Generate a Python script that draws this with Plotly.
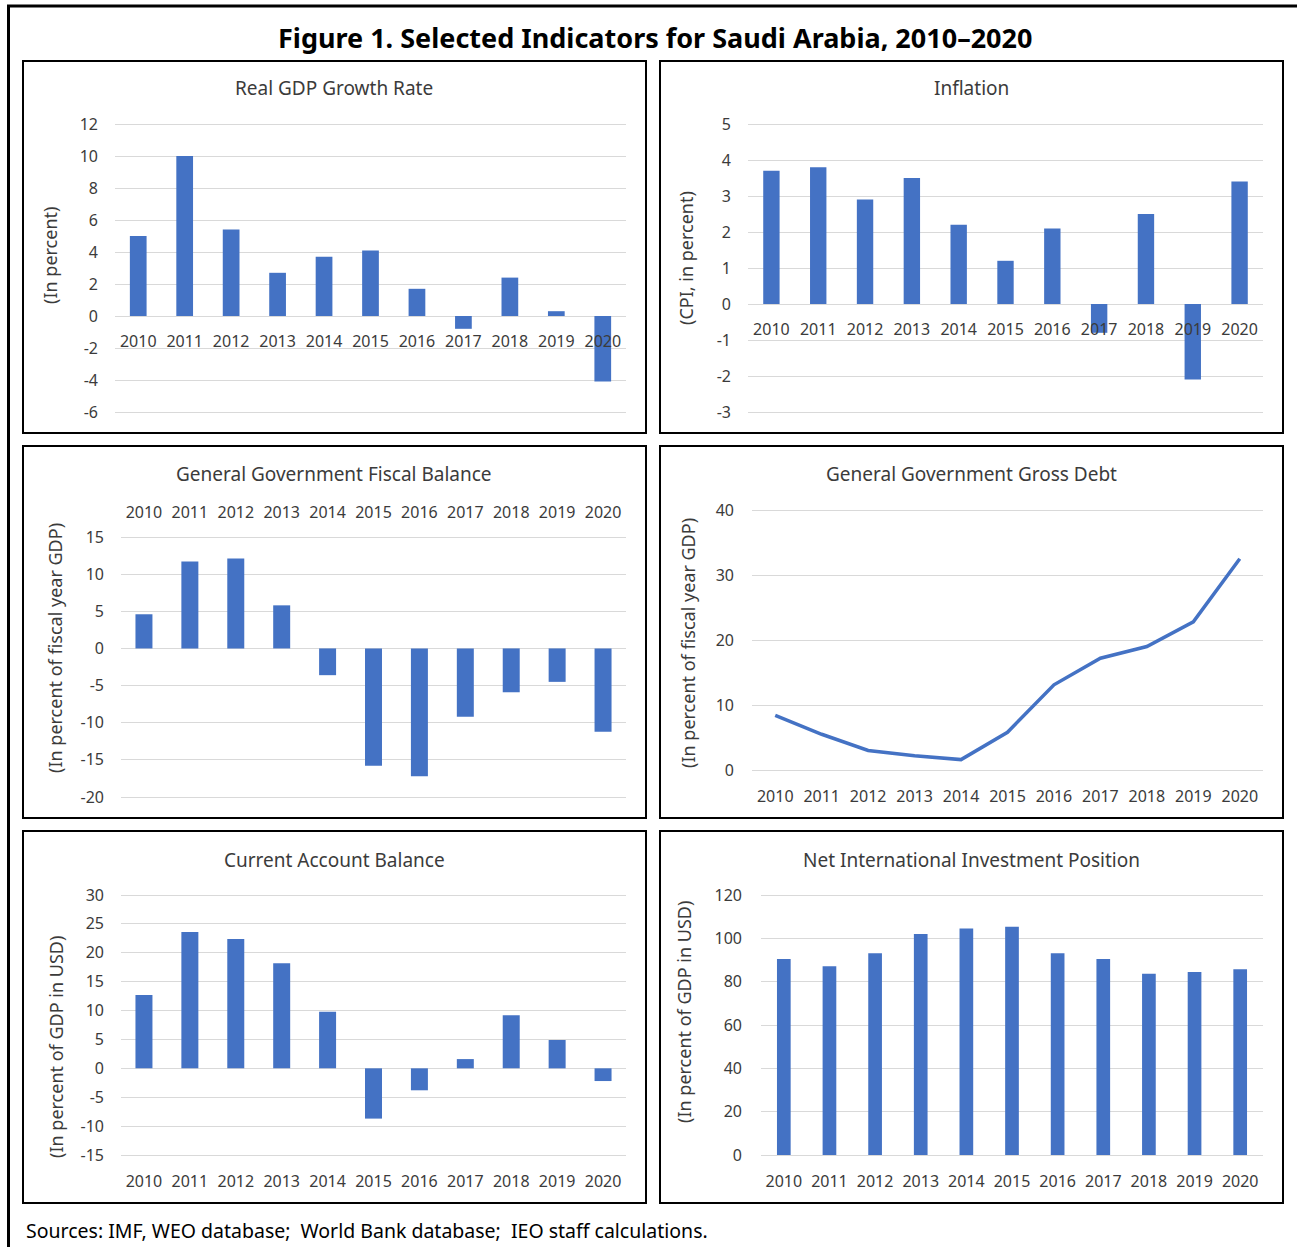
import plotly.graph_objects as go

# ---------------- data ----------------
years = ["2010", "2011", "2012", "2013", "2014", "2015", "2016", "2017", "2018", "2019", "2020"]

gdp_growth = [5.0, 10.0, 5.4, 2.7, 3.7, 4.1, 1.7, -0.8, 2.4, 0.3, -4.1]
inflation = [3.7, 3.8, 2.9, 3.5, 2.2, 1.2, 2.1, -0.8, 2.5, -2.1, 3.4]
fiscal_balance = [4.6, 11.7, 12.1, 5.8, -3.6, -15.8, -17.2, -9.2, -5.9, -4.5, -11.2]
gross_debt = [8.4, 5.5, 3.0, 2.2, 1.6, 5.8, 13.1, 17.2, 19.0, 22.8, 32.5]
current_account = [12.7, 23.6, 22.4, 18.2, 9.8, -8.7, -3.8, 1.6, 9.2, 4.9, -2.2]
niip = [90.5, 87.1, 93.1, 102.0, 104.5, 105.3, 93.1, 90.5, 83.6, 84.5, 85.7]

gdp_ticks = [-6, -4, -2, 0, 2, 4, 6, 8, 10, 12]
infl_ticks = [-3, -2, -1, 0, 1, 2, 3, 4, 5]
fiscal_ticks = [-20, -15, -10, -5, 0, 5, 10, 15]
debt_ticks = [0, 10, 20, 30, 40]
ca_ticks = [-15, -10, -5, 0, 5, 10, 15, 20, 25, 30]
niip_ticks = [0, 20, 40, 60, 80, 100, 120]

fig_title = "<b>Figure 1. Selected Indicators for Saudi Arabia, 2010–2020</b>"
sources = "Sources: IMF, WEO database;  World Bank database;  IEO staff calculations."

# ---------------- layout helpers ----------------
W, H = 1297, 1247
BLUE = "#4472C4"
GRID = "#D9D9D9"
TXT = "#3b3b3b"
FONT = "Noto Sans"
PADPX = 3  # extra pixels around the plot area so edge gridlines are drawn


def pxx(x):
    return x / W


def pyy(y):
    return 1 - y / H


panels = [
    dict(title="Real GDP Growth Rate", ytitle="(In percent)", vals=gdp_growth, ticks=gdp_ticks,
         kind="bar", xdom=(115, 626), ydom=(124, 412), box=(23, 61, 646, 433),
         tpos=(334, 88), ytpos=(50, 256), xlab="zero", bargap=0.64, ystand=16),
    dict(title="Inflation", ytitle="(CPI, in percent)", vals=inflation, ticks=infl_ticks,
         kind="bar", xdom=(748, 1263), ydom=(124, 412), box=(660, 61, 1283, 433),
         tpos=(971, 88), ytpos=(686, 258), xlab="zero", bargap=0.65, ystand=16),
    dict(title="General Government Fiscal Balance", ytitle="(In percent of fiscal year GDP)",
         vals=fiscal_balance, ticks=fiscal_ticks,
         kind="bar", xdom=(121, 626), ydom=(537, 797), box=(23, 446, 646, 818),
         tpos=(334, 474), ytpos=(55, 648), xlab="top", bargap=0.63, ystand=16),
    dict(title="General Government Gross Debt", ytitle="(In percent of fiscal year GDP)",
         vals=gross_debt, ticks=debt_ticks,
         kind="line", xdom=(752, 1263), ydom=(510, 770), box=(660, 446, 1283, 818),
         tpos=(971, 474), ytpos=(688, 643), xlab="bottom", bargap=0.6, ystand=17),
    dict(title="Current Account Balance", ytitle="(In percent of GDP in USD)",
         vals=current_account, ticks=ca_ticks,
         kind="bar", xdom=(121, 626), ydom=(895, 1155), box=(23, 831, 646, 1203),
         tpos=(334, 860), ytpos=(56, 1047), xlab="bottom", bargap=0.63, ystand=16),
    dict(title="Net International Investment Position", ytitle="(In percent of GDP in USD)",
         vals=niip, ticks=niip_ticks,
         kind="bar", xdom=(761, 1263), ydom=(895, 1155), box=(660, 831, 1283, 1203),
         tpos=(971, 860), ytpos=(684, 1012), xlab="bottom", bargap=0.70, ystand=18),
]

fig = go.Figure()
layout = dict(
    width=W, height=H, autosize=False,
    margin=dict(l=0, r=0, t=0, b=0, pad=0, autoexpand=False),
    paper_bgcolor="white", plot_bgcolor="white",
    showlegend=False,
    font=dict(family=FONT, color=TXT),
    shapes=[], annotations=[],
)

for i, p in enumerate(panels, start=1):
    sfx = "" if i == 1 else str(i)
    xa, ya = "x" + sfx, "y" + sfx
    ticks = p["ticks"]
    r0, r1 = min(ticks), max(ticks)
    top_px, bot_px = p["ydom"]
    upp = (r1 - r0) / (bot_px - top_px)  # data units per pixel
    lo, hi = r0 - PADPX * upp, r1 + PADPX * upp
    ydomain = [pyy(bot_px + PADPX), pyy(top_px - PADPX)]
    xdomain = [pxx(p["xdom"][0]), pxx(p["xdom"][1])]

    if p["kind"] == "bar":
        fig.add_trace(go.Bar(x=years, y=p["vals"], width=1 - p["bargap"],
                             marker=dict(color=BLUE, line=dict(width=0)),
                             xaxis=xa, yaxis=ya, hoverinfo="x+y"))
    else:
        fig.add_trace(go.Scatter(x=years, y=p["vals"], mode="lines",
                                 line=dict(color=BLUE, width=3.5), xaxis=xa, yaxis=ya))

    xax = dict(domain=xdomain, type="category", range=[-0.5, len(years) - 0.5],
               showgrid=False, zeroline=False, showline=False, ticks="",
               tickfont=dict(size=16, color=TXT, family=FONT), fixedrange=True,
               automargin=False)
    if p["xlab"] == "zero":
        pos = ydomain[0] + (0 - lo) / (hi - lo) * (ydomain[1] - ydomain[0])
        xax.update(anchor="free", position=pos, side="bottom", ticklabelstandoff=14)
    elif p["xlab"] == "top":
        xax.update(anchor="free", position=pyy(top_px), side="top", ticklabelstandoff=16)
    else:
        xax.update(anchor="free", position=pyy(bot_px), side="bottom", ticklabelstandoff=15)

    yax = dict(domain=ydomain, anchor=xa, range=[lo, hi],
               tickvals=ticks, ticktext=[str(t) for t in ticks],
               showgrid=True, gridcolor=GRID, gridwidth=1.3,
               zeroline=True, zerolinecolor=GRID, zerolinewidth=1.3,
               showline=False, ticks="", ticklabelstandoff=p["ystand"],
               tickfont=dict(size=16, color=TXT, family=FONT), fixedrange=True,
               automargin=False)

    layout["xaxis" + sfx] = xax
    layout["yaxis" + sfx] = yax

    # panel frame
    x0, y0, x1, y1 = p["box"]
    layout["shapes"].append(dict(type="rect", xref="paper", yref="paper",
                                 x0=pxx(x0), x1=pxx(x1), y0=pyy(y1), y1=pyy(y0),
                                 line=dict(color="black", width=2), fillcolor="rgba(0,0,0,0)",
                                 layer="below"))
    # panel title
    layout["annotations"].append(dict(text=p["title"], xref="paper", yref="paper",
                                      x=pxx(p["tpos"][0]), y=pyy(p["tpos"][1]),
                                      xanchor="center", yanchor="middle", showarrow=False,
                                      font=dict(size=19, color=TXT, family=FONT)))
    # y axis title
    layout["annotations"].append(dict(text=p["ytitle"], xref="paper", yref="paper",
                                      x=pxx(p["ytpos"][0]), y=pyy(p["ytpos"][1]),
                                      xanchor="center", yanchor="middle", showarrow=False,
                                      textangle=-90,
                                      font=dict(size=18, color=TXT, family=FONT)))

# outer frame
layout["shapes"].append(dict(type="rect", xref="paper", yref="paper",
                             x0=pxx(8.5), x1=pxx(1310), y0=pyy(1260), y1=pyy(6),
                             line=dict(color="black", width=3), fillcolor="rgba(0,0,0,0)",
                             layer="below"))
# main title
layout["annotations"].append(dict(text=fig_title, xref="paper", yref="paper",
                                  x=pxx(655), y=pyy(37), xanchor="center", yanchor="middle",
                                  showarrow=False, font=dict(size=27, color="black", family=FONT)))
# sources
layout["annotations"].append(dict(text=sources, xref="paper", yref="paper",
                                  x=pxx(24), y=pyy(1230), xanchor="left", yanchor="middle",
                                  showarrow=False, font=dict(size=19.5, color="black", family=FONT)))

fig.update_layout(**layout)
fig.write_html("out.html", config={"displayModeBar": False},
               post_script="document.body.style.margin='0';")
